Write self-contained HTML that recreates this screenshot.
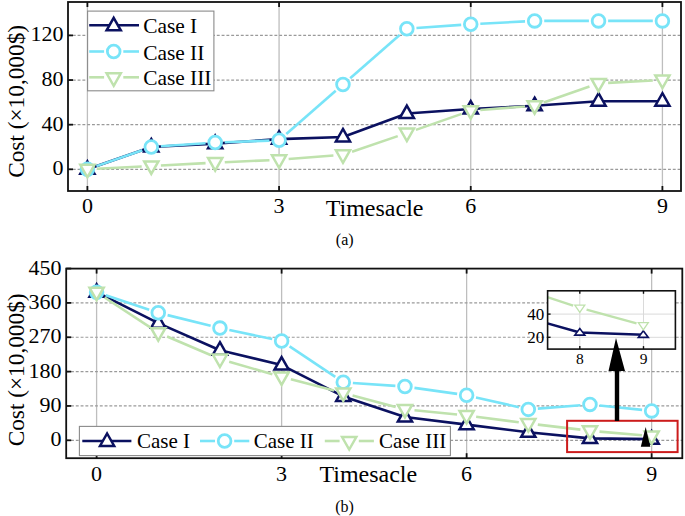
<!DOCTYPE html>
<html><head><meta charset="utf-8"><title>Cost vs Timesacle</title>
<style>html,body{margin:0;padding:0;background:#fff;width:685px;height:516px;overflow:hidden}
body{position:relative;font-family:"Liberation Serif",serif}</style></head>
<body>
<svg width="685" height="516" viewBox="0 0 685 516" style="position:absolute;left:0;top:0">
<rect width="685" height="516" fill="#fff"/>
<g font-family='"Liberation Serif", serif' fill="#000">
<line x1="87.4" y1="2" x2="87.4" y2="191" stroke="#bebebe" stroke-width="1.3"/>
<line x1="279.07" y1="2" x2="279.07" y2="191" stroke="#bebebe" stroke-width="1.3"/>
<line x1="470.74" y1="2" x2="470.74" y2="191" stroke="#bebebe" stroke-width="1.3"/>
<line x1="662.41" y1="2" x2="662.41" y2="191" stroke="#bebebe" stroke-width="1.3"/>
<line x1="68" y1="169.3" x2="681" y2="169.3" stroke="#9a9a9a" stroke-width="1.2" stroke-dasharray="2.9 1.9"/>
<line x1="68" y1="124.67" x2="681" y2="124.67" stroke="#9a9a9a" stroke-width="1.2" stroke-dasharray="2.9 1.9"/>
<line x1="68" y1="80.04" x2="681" y2="80.04" stroke="#9a9a9a" stroke-width="1.2" stroke-dasharray="2.9 1.9"/>
<line x1="68" y1="35.4" x2="681" y2="35.4" stroke="#9a9a9a" stroke-width="1.2" stroke-dasharray="2.9 1.9"/>
<polyline points="87.4,169.3 151.29,146.98 215.18,143.64 279.07,139.17 342.96,136.94 406.85,113.51 470.74,109.05 534.63,105.7 598.52,101.24 662.41,101.24" fill="none" stroke="#0b1160" stroke-width="2.6" stroke-linejoin="round"/>
<path d="M87.4 161.3L94.5 173.8L80.3 173.8Z" fill="#fff" stroke="#0b1160" stroke-width="2.5" stroke-linejoin="miter"/>
<path d="M151.29 138.98L158.39 151.48L144.19 151.48Z" fill="#fff" stroke="#0b1160" stroke-width="2.5" stroke-linejoin="miter"/>
<path d="M215.18 135.64L222.28 148.14L208.08 148.14Z" fill="#fff" stroke="#0b1160" stroke-width="2.5" stroke-linejoin="miter"/>
<path d="M279.07 131.17L286.17 143.67L271.97 143.67Z" fill="#fff" stroke="#0b1160" stroke-width="2.5" stroke-linejoin="miter"/>
<path d="M342.96 128.94L350.06 141.44L335.86 141.44Z" fill="#fff" stroke="#0b1160" stroke-width="2.5" stroke-linejoin="miter"/>
<path d="M406.85 105.51L413.95 118.01L399.75 118.01Z" fill="#fff" stroke="#0b1160" stroke-width="2.5" stroke-linejoin="miter"/>
<path d="M470.74 101.05L477.84 113.55L463.64 113.55Z" fill="#fff" stroke="#0b1160" stroke-width="2.5" stroke-linejoin="miter"/>
<path d="M534.63 97.7L541.73 110.2L527.53 110.2Z" fill="#fff" stroke="#0b1160" stroke-width="2.5" stroke-linejoin="miter"/>
<path d="M598.52 93.24L605.62 105.74L591.42 105.74Z" fill="#fff" stroke="#0b1160" stroke-width="2.5" stroke-linejoin="miter"/>
<path d="M662.41 93.24L669.51 105.74L655.31 105.74Z" fill="#fff" stroke="#0b1160" stroke-width="2.5" stroke-linejoin="miter"/>
<line x1="96.46" y1="166.13" x2="142.23" y2="150.15" stroke="#78e4f8" stroke-width="2.6" stroke-linecap="butt"/>
<line x1="160.87" y1="146.31" x2="205.6" y2="143.19" stroke="#78e4f8" stroke-width="2.6" stroke-linecap="butt"/>
<line x1="224.77" y1="142.19" x2="269.48" y2="140.62" stroke="#78e4f8" stroke-width="2.6" stroke-linecap="butt"/>
<line x1="286.3" y1="133.97" x2="335.73" y2="90.81" stroke="#78e4f8" stroke-width="2.6" stroke-linecap="butt"/>
<line x1="350.19" y1="78.18" x2="399.62" y2="35.02" stroke="#78e4f8" stroke-width="2.6" stroke-linecap="butt"/>
<line x1="416.43" y1="28.04" x2="461.16" y2="24.92" stroke="#78e4f8" stroke-width="2.6" stroke-linecap="butt"/>
<line x1="480.33" y1="23.74" x2="525.04" y2="21.4" stroke="#78e4f8" stroke-width="2.6" stroke-linecap="butt"/>
<line x1="544.23" y1="20.9" x2="588.92" y2="20.9" stroke="#78e4f8" stroke-width="2.6" stroke-linecap="butt"/>
<line x1="608.12" y1="20.9" x2="652.81" y2="20.9" stroke="#78e4f8" stroke-width="2.6" stroke-linecap="butt"/>
<circle cx="87.4" cy="169.3" r="6.35" fill="#fff" stroke="#78e4f8" stroke-width="2.8"/>
<circle cx="151.29" cy="146.98" r="6.35" fill="#fff" stroke="#78e4f8" stroke-width="2.8"/>
<circle cx="215.18" cy="142.52" r="6.35" fill="#fff" stroke="#78e4f8" stroke-width="2.8"/>
<circle cx="279.07" cy="140.29" r="6.35" fill="#fff" stroke="#78e4f8" stroke-width="2.8"/>
<circle cx="342.96" cy="84.5" r="6.35" fill="#fff" stroke="#78e4f8" stroke-width="2.8"/>
<circle cx="406.85" cy="28.71" r="6.35" fill="#fff" stroke="#78e4f8" stroke-width="2.8"/>
<circle cx="470.74" cy="24.25" r="6.35" fill="#fff" stroke="#78e4f8" stroke-width="2.8"/>
<circle cx="534.63" cy="20.9" r="6.35" fill="#fff" stroke="#78e4f8" stroke-width="2.8"/>
<circle cx="598.52" cy="20.9" r="6.35" fill="#fff" stroke="#78e4f8" stroke-width="2.8"/>
<circle cx="662.41" cy="20.9" r="6.35" fill="#fff" stroke="#78e4f8" stroke-width="2.8"/>
<line x1="96.99" y1="168.8" x2="141.7" y2="166.45" stroke="#bfe2ad" stroke-width="2.6" stroke-linecap="butt"/>
<line x1="160.88" y1="165.45" x2="205.59" y2="163.11" stroke="#bfe2ad" stroke-width="2.6" stroke-linecap="butt"/>
<line x1="224.77" y1="162.19" x2="269.48" y2="160.23" stroke="#bfe2ad" stroke-width="2.6" stroke-linecap="butt"/>
<line x1="288.64" y1="159.06" x2="333.39" y2="155.55" stroke="#bfe2ad" stroke-width="2.6" stroke-linecap="butt"/>
<line x1="352.05" y1="151.7" x2="397.76" y2="136.13" stroke="#bfe2ad" stroke-width="2.6" stroke-linecap="butt"/>
<line x1="415.91" y1="129.87" x2="461.68" y2="113.89" stroke="#bfe2ad" stroke-width="2.6" stroke-linecap="butt"/>
<line x1="480.31" y1="109.97" x2="525.06" y2="106.45" stroke="#bfe2ad" stroke-width="2.6" stroke-linecap="butt"/>
<line x1="543.69" y1="102.53" x2="589.46" y2="86.55" stroke="#bfe2ad" stroke-width="2.6" stroke-linecap="butt"/>
<line x1="608.11" y1="82.88" x2="652.82" y2="80.54" stroke="#bfe2ad" stroke-width="2.6" stroke-linecap="butt"/>
<path d="M87.4 177.3L94.5 164.8L80.3 164.8Z" fill="#fff" stroke="#bfe2ad" stroke-width="2.5" stroke-linejoin="miter"/>
<path d="M151.29 173.95L158.39 161.45L144.19 161.45Z" fill="#fff" stroke="#bfe2ad" stroke-width="2.5" stroke-linejoin="miter"/>
<path d="M215.18 170.61L222.28 158.11L208.08 158.11Z" fill="#fff" stroke="#bfe2ad" stroke-width="2.5" stroke-linejoin="miter"/>
<path d="M279.07 167.82L286.17 155.32L271.97 155.32Z" fill="#fff" stroke="#bfe2ad" stroke-width="2.5" stroke-linejoin="miter"/>
<path d="M342.96 162.79L350.06 150.29L335.86 150.29Z" fill="#fff" stroke="#bfe2ad" stroke-width="2.5" stroke-linejoin="miter"/>
<path d="M406.85 141.04L413.95 128.54L399.75 128.54Z" fill="#fff" stroke="#bfe2ad" stroke-width="2.5" stroke-linejoin="miter"/>
<path d="M470.74 118.72L477.84 106.22L463.64 106.22Z" fill="#fff" stroke="#bfe2ad" stroke-width="2.5" stroke-linejoin="miter"/>
<path d="M534.63 113.7L541.73 101.2L527.53 101.2Z" fill="#fff" stroke="#bfe2ad" stroke-width="2.5" stroke-linejoin="miter"/>
<path d="M598.52 91.38L605.62 78.88L591.42 78.88Z" fill="#fff" stroke="#bfe2ad" stroke-width="2.5" stroke-linejoin="miter"/>
<path d="M662.41 88.04L669.51 75.54L655.31 75.54Z" fill="#fff" stroke="#bfe2ad" stroke-width="2.5" stroke-linejoin="miter"/>
<line x1="87.4" y1="191" x2="87.4" y2="186" stroke="#111" stroke-width="1.8"/>
<line x1="87.4" y1="2" x2="87.4" y2="7" stroke="#111" stroke-width="1.8"/>
<line x1="279.07" y1="191" x2="279.07" y2="186" stroke="#111" stroke-width="1.8"/>
<line x1="279.07" y1="2" x2="279.07" y2="7" stroke="#111" stroke-width="1.8"/>
<line x1="470.74" y1="191" x2="470.74" y2="186" stroke="#111" stroke-width="1.8"/>
<line x1="470.74" y1="2" x2="470.74" y2="7" stroke="#111" stroke-width="1.8"/>
<line x1="662.41" y1="191" x2="662.41" y2="186" stroke="#111" stroke-width="1.8"/>
<line x1="662.41" y1="2" x2="662.41" y2="7" stroke="#111" stroke-width="1.8"/>
<line x1="68" y1="169.3" x2="73" y2="169.3" stroke="#111" stroke-width="1.8"/>
<line x1="68" y1="124.67" x2="73" y2="124.67" stroke="#111" stroke-width="1.8"/>
<line x1="68" y1="80.04" x2="73" y2="80.04" stroke="#111" stroke-width="1.8"/>
<line x1="68" y1="35.4" x2="73" y2="35.4" stroke="#111" stroke-width="1.8"/>
<rect x="68" y="2" width="613" height="189" fill="none" stroke="#111" stroke-width="1.8"/>
<rect x="87.6" y="11.1" width="126.3" height="79.7" fill="#fff" stroke="#8a8a8a" stroke-width="1.1"/>
<line x1="89.2" y1="25.3" x2="139" y2="25.3" stroke="#0b1160" stroke-width="2.6"/>
<path d="M113.7 17.8L120.8 30.3L106.6 30.3Z" fill="#fff" stroke="#0b1160" stroke-width="2.5" stroke-linejoin="miter"/>
<line x1="89.2" y1="51.5" x2="104.1" y2="51.5" stroke="#78e4f8" stroke-width="2.6" stroke-linecap="butt"/>
<line x1="123.3" y1="51.5" x2="139" y2="51.5" stroke="#78e4f8" stroke-width="2.6" stroke-linecap="butt"/>
<circle cx="113.7" cy="51.5" r="6.35" fill="#fff" stroke="#78e4f8" stroke-width="2.8"/>
<line x1="89.2" y1="77.3" x2="104.1" y2="77.3" stroke="#bfe2ad" stroke-width="2.6" stroke-linecap="butt"/>
<line x1="123.3" y1="77.3" x2="139" y2="77.3" stroke="#bfe2ad" stroke-width="2.6" stroke-linecap="butt"/>
<path d="M113.7 85.8L120.8 73.3L106.6 73.3Z" fill="#fff" stroke="#bfe2ad" stroke-width="2.5" stroke-linejoin="miter"/>
<text x="143.2" y="33.3" font-size="21.4" text-anchor="start">Case I</text>
<text x="143.2" y="59.5" font-size="21.4" text-anchor="start">Case II</text>
<text x="143.2" y="85.3" font-size="21.4" text-anchor="start">Case III</text>
<text x="63.6" y="175.3" font-size="22" text-anchor="end">0</text>
<text x="63.6" y="130.67" font-size="22" text-anchor="end">40</text>
<text x="63.6" y="86.04" font-size="22" text-anchor="end">80</text>
<text x="63.6" y="41.4" font-size="22" text-anchor="end">120</text>
<text x="87.4" y="213" font-size="22" text-anchor="middle">0</text>
<text x="279.07" y="213" font-size="22" text-anchor="middle">3</text>
<text x="470.74" y="213" font-size="22" text-anchor="middle">6</text>
<text x="662.41" y="213" font-size="22" text-anchor="middle">9</text>
<text x="374.6" y="215.7" font-size="24" text-anchor="middle">Timesacle</text>
<text x="344.7" y="244.8" font-size="16" text-anchor="middle">(a)</text>
<text transform="translate(23.6 101.4) rotate(-90)" x="0" y="0" font-size="23.3" text-anchor="middle">Cost (&#215;10,000$)</text>
<line x1="96.6" y1="268.6" x2="96.6" y2="458.2" stroke="#bebebe" stroke-width="1.3"/>
<line x1="281.61" y1="268.6" x2="281.61" y2="458.2" stroke="#bebebe" stroke-width="1.3"/>
<line x1="466.62" y1="268.6" x2="466.62" y2="458.2" stroke="#bebebe" stroke-width="1.3"/>
<line x1="651.63" y1="268.6" x2="651.63" y2="458.2" stroke="#bebebe" stroke-width="1.3"/>
<line x1="66.2" y1="440.3" x2="682.3" y2="440.3" stroke="#9a9a9a" stroke-width="1.2" stroke-dasharray="2.9 1.9"/>
<line x1="66.2" y1="405.95" x2="682.3" y2="405.95" stroke="#9a9a9a" stroke-width="1.2" stroke-dasharray="2.9 1.9"/>
<line x1="66.2" y1="371.6" x2="682.3" y2="371.6" stroke="#9a9a9a" stroke-width="1.2" stroke-dasharray="2.9 1.9"/>
<line x1="66.2" y1="337.25" x2="682.3" y2="337.25" stroke="#9a9a9a" stroke-width="1.2" stroke-dasharray="2.9 1.9"/>
<line x1="66.2" y1="302.9" x2="682.3" y2="302.9" stroke="#9a9a9a" stroke-width="1.2" stroke-dasharray="2.9 1.9"/>
<polyline points="96.6,292.21 158.27,323.13 219.94,350.23 281.61,365.11 343.28,396.41 404.95,417.02 466.62,424.65 528.29,432.28 589.96,438.39 651.63,439.15" fill="none" stroke="#0b1160" stroke-width="2.6" stroke-linejoin="round"/>
<path d="M96.6 284.21L103.7 296.71L89.5 296.71Z" fill="#fff" stroke="#0b1160" stroke-width="2.5" stroke-linejoin="miter"/>
<path d="M158.27 315.13L165.37 327.63L151.17 327.63Z" fill="#fff" stroke="#0b1160" stroke-width="2.5" stroke-linejoin="miter"/>
<path d="M219.94 342.23L227.04 354.73L212.84 354.73Z" fill="#fff" stroke="#0b1160" stroke-width="2.5" stroke-linejoin="miter"/>
<path d="M281.61 357.11L288.71 369.61L274.51 369.61Z" fill="#fff" stroke="#0b1160" stroke-width="2.5" stroke-linejoin="miter"/>
<path d="M343.28 388.41L350.38 400.91L336.18 400.91Z" fill="#fff" stroke="#0b1160" stroke-width="2.5" stroke-linejoin="miter"/>
<path d="M404.95 409.02L412.05 421.52L397.85 421.52Z" fill="#fff" stroke="#0b1160" stroke-width="2.5" stroke-linejoin="miter"/>
<path d="M466.62 416.65L473.72 429.15L459.52 429.15Z" fill="#fff" stroke="#0b1160" stroke-width="2.5" stroke-linejoin="miter"/>
<path d="M528.29 424.28L535.39 436.78L521.19 436.78Z" fill="#fff" stroke="#0b1160" stroke-width="2.5" stroke-linejoin="miter"/>
<path d="M589.96 430.39L597.06 442.89L582.86 442.89Z" fill="#fff" stroke="#0b1160" stroke-width="2.5" stroke-linejoin="miter"/>
<path d="M651.63 431.15L658.73 443.65L644.53 443.65Z" fill="#fff" stroke="#0b1160" stroke-width="2.5" stroke-linejoin="miter"/>
<line x1="105.7" y1="295.25" x2="149.17" y2="309.78" stroke="#78e4f8" stroke-width="2.6" stroke-linecap="butt"/>
<line x1="167.59" y1="315.13" x2="210.62" y2="325.78" stroke="#78e4f8" stroke-width="2.6" stroke-linecap="butt"/>
<line x1="229.33" y1="330.07" x2="272.22" y2="339.09" stroke="#78e4f8" stroke-width="2.6" stroke-linecap="butt"/>
<line x1="289.59" y1="346.4" x2="335.3" y2="376.95" stroke="#78e4f8" stroke-width="2.6" stroke-linecap="butt"/>
<line x1="352.86" y1="382.94" x2="395.37" y2="385.83" stroke="#78e4f8" stroke-width="2.6" stroke-linecap="butt"/>
<line x1="414.45" y1="387.84" x2="457.12" y2="393.91" stroke="#78e4f8" stroke-width="2.6" stroke-linecap="butt"/>
<line x1="475.98" y1="397.41" x2="518.93" y2="407.24" stroke="#78e4f8" stroke-width="2.6" stroke-linecap="butt"/>
<line x1="537.86" y1="408.61" x2="580.39" y2="405.19" stroke="#78e4f8" stroke-width="2.6" stroke-linecap="butt"/>
<line x1="599.51" y1="405.43" x2="642.08" y2="409.91" stroke="#78e4f8" stroke-width="2.6" stroke-linecap="butt"/>
<circle cx="96.6" cy="292.21" r="6.35" fill="#fff" stroke="#78e4f8" stroke-width="2.8"/>
<circle cx="158.27" cy="312.82" r="6.35" fill="#fff" stroke="#78e4f8" stroke-width="2.8"/>
<circle cx="219.94" cy="328.09" r="6.35" fill="#fff" stroke="#78e4f8" stroke-width="2.8"/>
<circle cx="281.61" cy="341.07" r="6.35" fill="#fff" stroke="#78e4f8" stroke-width="2.8"/>
<circle cx="343.28" cy="382.29" r="6.35" fill="#fff" stroke="#78e4f8" stroke-width="2.8"/>
<circle cx="404.95" cy="386.48" r="6.35" fill="#fff" stroke="#78e4f8" stroke-width="2.8"/>
<circle cx="466.62" cy="395.26" r="6.35" fill="#fff" stroke="#78e4f8" stroke-width="2.8"/>
<circle cx="528.29" cy="409.38" r="6.35" fill="#fff" stroke="#78e4f8" stroke-width="2.8"/>
<circle cx="589.96" cy="404.42" r="6.35" fill="#fff" stroke="#78e4f8" stroke-width="2.8"/>
<circle cx="651.63" cy="410.91" r="6.35" fill="#fff" stroke="#78e4f8" stroke-width="2.8"/>
<line x1="104.63" y1="297.48" x2="150.24" y2="327.4" stroke="#bfe2ad" stroke-width="2.6" stroke-linecap="butt"/>
<line x1="167.1" y1="336.44" x2="211.11" y2="355.23" stroke="#bfe2ad" stroke-width="2.6" stroke-linecap="butt"/>
<line x1="229.16" y1="361.69" x2="272.39" y2="374.26" stroke="#bfe2ad" stroke-width="2.6" stroke-linecap="butt"/>
<line x1="290.9" y1="379.36" x2="333.99" y2="390.56" stroke="#bfe2ad" stroke-width="2.6" stroke-linecap="butt"/>
<line x1="352.56" y1="395.44" x2="395.67" y2="406.92" stroke="#bfe2ad" stroke-width="2.6" stroke-linecap="butt"/>
<line x1="414.5" y1="410.33" x2="457.07" y2="414.55" stroke="#bfe2ad" stroke-width="2.6" stroke-linecap="butt"/>
<line x1="476.14" y1="416.73" x2="518.77" y2="422.27" stroke="#bfe2ad" stroke-width="2.6" stroke-linecap="butt"/>
<line x1="537.82" y1="424.63" x2="580.43" y2="429.64" stroke="#bfe2ad" stroke-width="2.6" stroke-linecap="butt"/>
<line x1="599.52" y1="431.59" x2="642.07" y2="435.27" stroke="#bfe2ad" stroke-width="2.6" stroke-linecap="butt"/>
<path d="M96.6 300.21L103.7 287.71L89.5 287.71Z" fill="#fff" stroke="#bfe2ad" stroke-width="2.5" stroke-linejoin="miter"/>
<path d="M158.27 340.67L165.37 328.17L151.17 328.17Z" fill="#fff" stroke="#bfe2ad" stroke-width="2.5" stroke-linejoin="miter"/>
<path d="M219.94 367L227.04 354.5L212.84 354.5Z" fill="#fff" stroke="#bfe2ad" stroke-width="2.5" stroke-linejoin="miter"/>
<path d="M281.61 384.94L288.71 372.44L274.51 372.44Z" fill="#fff" stroke="#bfe2ad" stroke-width="2.5" stroke-linejoin="miter"/>
<path d="M343.28 400.97L350.38 388.47L336.18 388.47Z" fill="#fff" stroke="#bfe2ad" stroke-width="2.5" stroke-linejoin="miter"/>
<path d="M404.95 417.38L412.05 404.88L397.85 404.88Z" fill="#fff" stroke="#bfe2ad" stroke-width="2.5" stroke-linejoin="miter"/>
<path d="M466.62 423.49L473.72 410.99L459.52 410.99Z" fill="#fff" stroke="#bfe2ad" stroke-width="2.5" stroke-linejoin="miter"/>
<path d="M528.29 431.51L535.39 419.01L521.19 419.01Z" fill="#fff" stroke="#bfe2ad" stroke-width="2.5" stroke-linejoin="miter"/>
<path d="M589.96 438.76L597.06 426.26L582.86 426.26Z" fill="#fff" stroke="#bfe2ad" stroke-width="2.5" stroke-linejoin="miter"/>
<path d="M651.63 444.1L658.73 431.6L644.53 431.6Z" fill="#fff" stroke="#bfe2ad" stroke-width="2.5" stroke-linejoin="miter"/>
<line x1="96.6" y1="458.2" x2="96.6" y2="453.2" stroke="#111" stroke-width="1.8"/>
<line x1="96.6" y1="268.6" x2="96.6" y2="273.6" stroke="#111" stroke-width="1.8"/>
<line x1="281.61" y1="458.2" x2="281.61" y2="453.2" stroke="#111" stroke-width="1.8"/>
<line x1="281.61" y1="268.6" x2="281.61" y2="273.6" stroke="#111" stroke-width="1.8"/>
<line x1="466.62" y1="458.2" x2="466.62" y2="453.2" stroke="#111" stroke-width="1.8"/>
<line x1="466.62" y1="268.6" x2="466.62" y2="273.6" stroke="#111" stroke-width="1.8"/>
<line x1="651.63" y1="458.2" x2="651.63" y2="453.2" stroke="#111" stroke-width="1.8"/>
<line x1="651.63" y1="268.6" x2="651.63" y2="273.6" stroke="#111" stroke-width="1.8"/>
<line x1="66.2" y1="440.3" x2="71.2" y2="440.3" stroke="#111" stroke-width="1.8"/>
<line x1="66.2" y1="405.95" x2="71.2" y2="405.95" stroke="#111" stroke-width="1.8"/>
<line x1="66.2" y1="371.6" x2="71.2" y2="371.6" stroke="#111" stroke-width="1.8"/>
<line x1="66.2" y1="337.25" x2="71.2" y2="337.25" stroke="#111" stroke-width="1.8"/>
<line x1="66.2" y1="302.9" x2="71.2" y2="302.9" stroke="#111" stroke-width="1.8"/>
<line x1="66.2" y1="268.55" x2="71.2" y2="268.55" stroke="#111" stroke-width="1.8"/>
<rect x="66.2" y="268.6" width="616.0999999999999" height="189.59999999999997" fill="none" stroke="#111" stroke-width="1.8"/>
<rect x="567.1" y="420.8" width="110.5" height="31.3" fill="none" stroke="#cc1c1c" stroke-width="2"/>
<path d="M645.7 427 L650.3 446.8 L640.8 446.8 Z" fill="#000"/>
<rect x="547.6" y="290.8" width="127.79999999999995" height="58.30000000000001" fill="#fff"/>
<line x1="579.8" y1="290.8" x2="579.8" y2="349.1" stroke="#dadada" stroke-width="1"/>
<line x1="643.5" y1="290.8" x2="643.5" y2="349.1" stroke="#dadada" stroke-width="1"/>
<line x1="547.6" y1="337.3" x2="675.4" y2="337.3" stroke="#dadada" stroke-width="1"/>
<line x1="547.6" y1="314.1" x2="675.4" y2="314.1" stroke="#dadada" stroke-width="1"/>
<defs><clipPath id="ic"><rect x="547.6" y="290.8" width="127.79999999999995" height="58.30000000000001"/></clipPath></defs>
<g clip-path="url(#ic)">
<polyline points="500,310 579.8,332.5 643.3,334.8" fill="none" stroke="#0b1160" stroke-width="2.6" stroke-linejoin="round"/>
<path d="M579.8 328.5L584.8 335.1L574.8 335.1Z" fill="#fff" stroke="#0b1160" stroke-width="1.6" stroke-linejoin="miter"/>
<path d="M643.3 330.8L648.3 337.4L638.3 337.4Z" fill="#fff" stroke="#0b1160" stroke-width="1.6" stroke-linejoin="miter"/>
<line x1="506.66" y1="283.87" x2="573.14" y2="305.53" stroke="#bfe2ad" stroke-width="2.4" stroke-linecap="butt"/>
<line x1="586.55" y1="309.57" x2="636.55" y2="323.43" stroke="#bfe2ad" stroke-width="2.4" stroke-linecap="butt"/>
<path d="M579.8 312.3L584.8 305.1L574.8 305.1Z" fill="#fff" stroke="#bfe2ad" stroke-width="1.3" stroke-linejoin="miter"/>
<path d="M643.3 329.9L648.3 322.7L638.3 322.7Z" fill="#fff" stroke="#bfe2ad" stroke-width="1.3" stroke-linejoin="miter"/>
</g>
<line x1="579.8" y1="349.1" x2="579.8" y2="346.1" stroke="#111" stroke-width="1.4"/>
<line x1="579.8" y1="290.8" x2="579.8" y2="293.8" stroke="#111" stroke-width="1.4"/>
<line x1="643.5" y1="349.1" x2="643.5" y2="346.1" stroke="#111" stroke-width="1.4"/>
<line x1="643.5" y1="290.8" x2="643.5" y2="293.8" stroke="#111" stroke-width="1.4"/>
<line x1="547.6" y1="337.3" x2="550.6" y2="337.3" stroke="#111" stroke-width="1.4"/>
<line x1="547.6" y1="314.1" x2="550.6" y2="314.1" stroke="#111" stroke-width="1.4"/>
<rect x="547.6" y="290.8" width="127.79999999999995" height="58.30000000000001" fill="none" stroke="#111" stroke-width="1.6"/>
<text x="544.3" y="343.2" font-size="17" text-anchor="end">20</text>
<text x="544.3" y="320" font-size="17" text-anchor="end">40</text>
<text x="579.8" y="363.8" font-size="15.5" text-anchor="middle">8</text>
<text x="643.5" y="363.8" font-size="15.5" text-anchor="middle">9</text>
<line x1="617" y1="421" x2="617" y2="366" stroke="#000" stroke-width="4.4"/>
<path d="M616 338 L625 371 L608.5 371 Z" fill="#000"/>
<rect x="79.4" y="426.4" width="371" height="29.2" fill="#fff" stroke="#8a8a8a" stroke-width="1.1"/>
<line x1="82.3" y1="441.0" x2="131.4" y2="441.0" stroke="#0b1160" stroke-width="2.6"/>
<path d="M107.1 433.5L114.2 446L100 446Z" fill="#fff" stroke="#0b1160" stroke-width="2.5" stroke-linejoin="miter"/>
<line x1="200" y1="441" x2="215" y2="441" stroke="#78e4f8" stroke-width="2.6" stroke-linecap="butt"/>
<line x1="234.2" y1="441" x2="249.3" y2="441" stroke="#78e4f8" stroke-width="2.6" stroke-linecap="butt"/>
<circle cx="224.6" cy="441" r="6.35" fill="#fff" stroke="#78e4f8" stroke-width="2.8"/>
<line x1="324.8" y1="441" x2="339.6" y2="441" stroke="#bfe2ad" stroke-width="2.6" stroke-linecap="butt"/>
<line x1="358.8" y1="441" x2="373.9" y2="441" stroke="#bfe2ad" stroke-width="2.6" stroke-linecap="butt"/>
<path d="M349.2 449.5L356.3 437L342.1 437Z" fill="#fff" stroke="#bfe2ad" stroke-width="2.5" stroke-linejoin="miter"/>
<text x="136.9" y="448.4" font-size="21" text-anchor="start">Case I</text>
<text x="253.7" y="448.4" font-size="21" text-anchor="start">Case II</text>
<text x="379.1" y="448.4" font-size="21" text-anchor="start">Case III</text>
<text x="61.4" y="446.3" font-size="22" text-anchor="end">0</text>
<text x="61.4" y="411.95" font-size="22" text-anchor="end">90</text>
<text x="61.4" y="377.6" font-size="22" text-anchor="end">180</text>
<text x="61.4" y="343.25" font-size="22" text-anchor="end">270</text>
<text x="61.4" y="308.9" font-size="22" text-anchor="end">360</text>
<text x="61.4" y="274.55" font-size="22" text-anchor="end">450</text>
<text x="96.6" y="481.2" font-size="22" text-anchor="middle">0</text>
<text x="281.61" y="481.2" font-size="22" text-anchor="middle">3</text>
<text x="466.62" y="481.2" font-size="22" text-anchor="middle">6</text>
<text x="651.63" y="481.2" font-size="22" text-anchor="middle">9</text>
<text x="368.3" y="481.8" font-size="24" text-anchor="middle">Timesacle</text>
<text x="344.6" y="511.6" font-size="16" text-anchor="middle">(b)</text>
<text transform="translate(23.6 369.9) rotate(-90)" x="0" y="0" font-size="23.3" text-anchor="middle">Cost (&#215;10,000$)</text>
</g></svg>
</body></html>
